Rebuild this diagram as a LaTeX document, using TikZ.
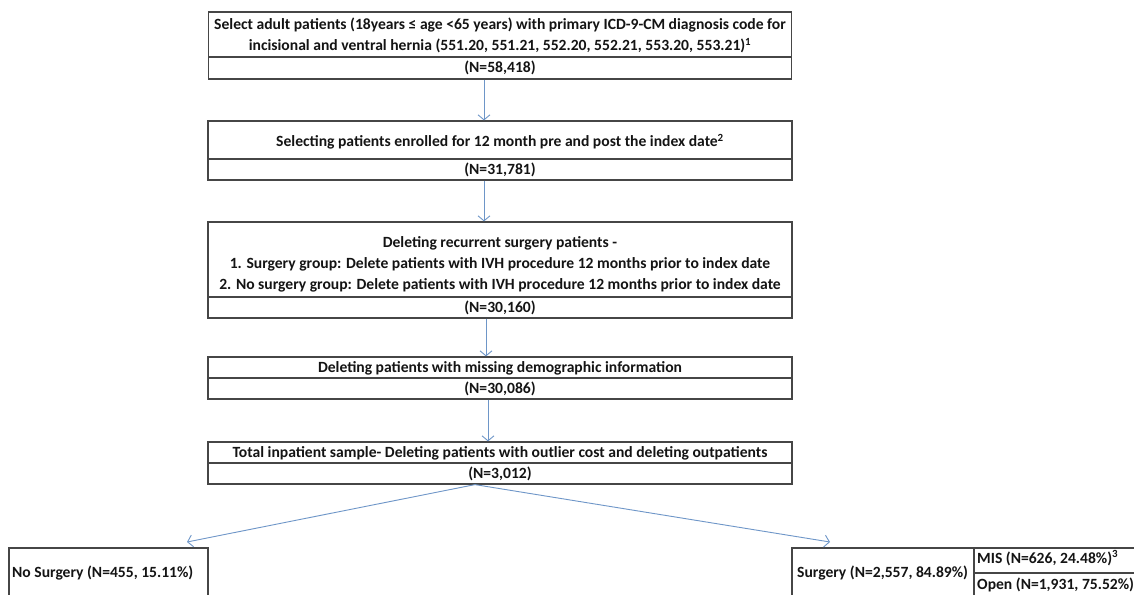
\documentclass[tikz,border=0pt]{standalone}
\usepackage{fontspec}
\setmainfont{Carlito}
\usetikzlibrary{arrows.meta}
\definecolor{boxgray}{RGB}{70,70,70}
\definecolor{flowc}{RGB}{110,150,200}
\definecolor{txtc}{RGB}{20,20,20}
\begin{document}
\begin{tikzpicture}[x=1pt,y=-1pt,
  box/.style={draw=boxgray, line width=1.2pt, inner sep=0pt, fill=none},
  txt/.style={font=\bfseries\fontsize{15.6}{21.3}\selectfont, text=txtc, inner sep=0pt, align=center},
  ltxt/.style={txt, anchor=west},
  flow/.style={draw=flowc, line width=0.9pt, -{Straight Barb[length=5pt,width=12pt]}}]
\useasboundingbox (0,0) rectangle (1134,594);
\fill[white] (0,0) rectangle (1134,594);
% box 1
\node[box, minimum width=583pt, minimum height=45pt] (b1t) at (500,34.5) {};
\node[box, minimum width=583pt, minimum height=22pt] (b1b) at (500,68) {};
\node[txt] (t1) at (500,35.5) {Select adult patients (18years ≤ age <65 years) with primary ICD-9-CM diagnosis code for\\incisional and ventral hernia (551.20, 551.21, 552.20, 552.21, 553.20, 553.21)\textsuperscript{1}};
\node[txt] (n1) at (500,68) {(N=58,418)};
% box 2
\node[box, minimum width=584pt, minimum height=38pt] (b2t) at (500,140) {};
\node[box, minimum width=584pt, minimum height=21pt] (b2b) at (500,169.5) {};
\node[txt] (t2) at (500,142) {Selecting patients enrolled for 12 month pre and post the index date\textsuperscript{2}};
\node[txt] (n2) at (500,170) {(N=31,781)};
% box 3
\node[box, minimum width=584pt, minimum height=75pt] (b3t) at (500,259.5) {};
\node[box, minimum width=584pt, minimum height=21pt] (b3b) at (500,307.5) {};
\node[txt] (t3) at (500,264.5) {Deleting recurrent surgery patients -\\1. Surgery group: Delete patients with IVH procedure 12 months prior to index date\\2. No surgery group: Delete patients with IVH procedure 12 months prior to index date};
\node[txt] (n3) at (500,308) {(N=30,160)};
% box 4
\node[box, minimum width=584pt, minimum height=21pt] (b4t) at (500,367.5) {};
\node[box, minimum width=584pt, minimum height=21pt] (b4b) at (500,388.5) {};
\node[txt] (t4) at (500,368) {Deleting patients with missing demographic information};
\node[txt] (n4) at (500,389) {(N=30,086)};
% box 5
\node[box, minimum width=584pt, minimum height=21pt] (b5t) at (500,452.5) {};
\node[box, minimum width=584pt, minimum height=21pt] (b5b) at (500,473.5) {};
\node[txt] (t5) at (500,453) {Total inpatient sample- Deleting patients with outlier cost and deleting outpatients};
\node[txt] (n5) at (500,474) {(N=3,012)};
% bottom boxes
\node[box, minimum width=199pt, minimum height=80pt] (ns) at (108.5,588) {};
\node[box, minimum width=182pt, minimum height=80pt] (sg) at (883,588) {};
\node[box, minimum width=180pt, minimum height=25pt] (mis) at (1064,560.5) {};
\node[box, minimum width=180pt, minimum height=55pt] (opn) at (1064,600.5) {};
\node[ltxt] (tns) at (12,573) {No Surgery (N=455, 15.11\%)};
\node[ltxt] (tsg) at (797,573) {Surgery (N=2,557, 84.89\%)};
\node[ltxt] (tmis) at (977,558) {MIS (N=626, 24.48\%)\textsuperscript{3}};
\node[ltxt] (topn) at (977,585) {Open (N=1,931, 75.52\%)\textsuperscript{3}};
% connectors
\draw[flow] ([xshift=-16pt]b1b.south) -- ([xshift=-16pt]b2t.north);
\draw[flow] ([xshift=-16pt]b2b.south) -- ([xshift=-16pt]b3t.north);
\draw[flow] ([xshift=-14pt]b3b.south) -- ([xshift=-14pt]b4t.north);
\draw[flow] ([xshift=-12pt]b4b.south) -- ([xshift=-12pt]b5t.north);
\coordinate (tipL) at (187,542);
\coordinate (tipR) at (830,542);
\draw[flow] ([xshift=-25pt]b5b.south) -- (tipL);
\draw[flow] ([xshift=-25pt]b5b.south) -- (tipR);
\end{tikzpicture}
\end{document}
